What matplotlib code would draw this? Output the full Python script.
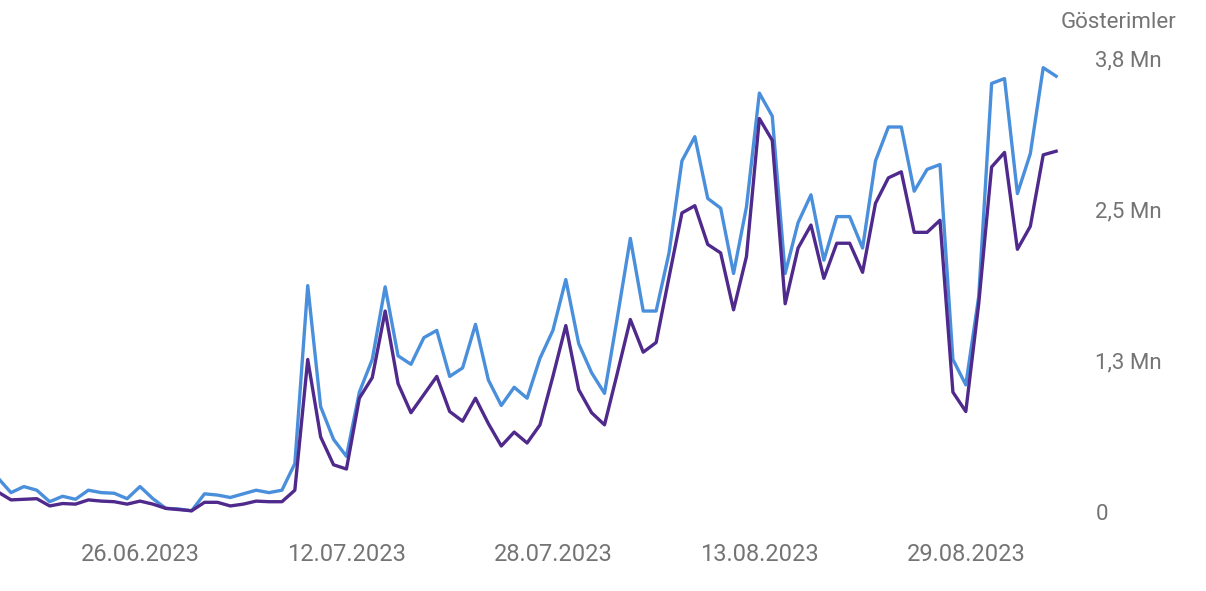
import matplotlib.pyplot as plt
import matplotlib.dates as mdates
import pandas as pd

# Data (millions of impressions, daily)
dates = pd.date_range('2023-06-15', periods=83, freq='D')
impressions_a = [0.28, 0.16, 0.21, 0.18, 0.085, 0.13, 0.105, 0.18, 0.16, 0.155,
                 0.11, 0.21, 0.11, 0.03, 0.025, 0.01, 0.15, 0.14, 0.12, 0.15,
                 0.18, 0.16, 0.18, 0.40, 1.87, 0.87, 0.60, 0.46, 0.99, 1.26,
                 1.86, 1.29, 1.22, 1.44, 1.50, 1.12, 1.19, 1.55, 1.09, 0.88,
                 1.03, 0.94, 1.27, 1.50, 1.92, 1.39, 1.15, 0.98, 1.61, 2.26,
                 1.66, 1.66, 2.14, 2.90, 3.10, 2.59, 2.51, 1.97, 2.52, 3.46,
                 3.27, 1.97, 2.39, 2.62, 2.08, 2.44, 2.44, 2.18, 2.90, 3.18,
                 3.18, 2.65, 2.83, 2.87, 1.26, 1.05, 1.78, 3.54, 3.58, 2.63,
                 2.96, 3.67, 3.60]
impressions_b = [0.165, 0.10, 0.105, 0.11, 0.05, 0.07, 0.065, 0.10, 0.09, 0.085,
                 0.065, 0.09, 0.065, 0.03, 0.02, 0.01, 0.08, 0.08, 0.05, 0.065,
                 0.09, 0.085, 0.085, 0.18, 1.26, 0.62, 0.39, 0.355, 0.94, 1.11,
                 1.66, 1.06, 0.82, 0.97, 1.12, 0.83, 0.75, 0.94, 0.73, 0.545,
                 0.66, 0.57, 0.72, 1.12, 1.54, 1.01, 0.82, 0.72, 1.15, 1.59,
                 1.32, 1.40, 1.94, 2.47, 2.53, 2.21, 2.14, 1.67, 2.11, 3.25,
                 3.07, 1.72, 2.18, 2.37, 1.93, 2.22, 2.22, 1.98, 2.55, 2.76,
                 2.81, 2.31, 2.31, 2.41, 0.99, 0.83, 1.72, 2.85, 2.97, 2.17,
                 2.36, 2.95, 2.98]
tick_dates = ['2023-06-26', '2023-07-12', '2023-07-28', '2023-08-13', '2023-08-29']
y_ticks = [0, 1.25, 2.5, 3.75]
y_labels = ['0', '1,3 Mn', '2,5 Mn', '3,8 Mn']

plt.rcParams['font.family'] = ['Roboto', 'DejaVu Sans']
grey = '#747474'

fig = plt.figure(figsize=(12.06, 5.91), dpi=100)
ax = fig.add_axes([0, 1 - 512 / 591, 1080 / 1206, (512 - 58) / 591])

ax.plot(dates, impressions_a, color='#4a8fdb', linewidth=2.4, clip_on=False)
ax.plot(dates, impressions_b, color='#4f2a8c', linewidth=2.4, clip_on=False)

start = mdates.date2num(dates[0])
ax.set_xlim(start + 0.15, start + 83.85)
ax.set_ylim(0, 3.75)

ax.set_xticks(pd.to_datetime(tick_dates))
ax.xaxis.set_major_formatter(mdates.DateFormatter('%d.%m.%Y'))
ax.yaxis.tick_right()
ax.set_yticks(y_ticks)
ax.set_yticklabels(y_labels)
ax.tick_params(axis='x', length=0, pad=22, labelsize=17, labelcolor=grey)
ax.tick_params(axis='y', length=0, pad=11, labelsize=16, labelcolor=grey)
for lbl in ax.get_yticklabels():
    lbl.set_horizontalalignment('left')

for s in ax.spines.values():
    s.set_visible(False)

fig.text(1176 / 1206, 1 - 22 / 591, 'Gösterimler', ha='right', va='center',
         fontsize=16, color=grey)

plt.savefig('out.png', dpi=100)
